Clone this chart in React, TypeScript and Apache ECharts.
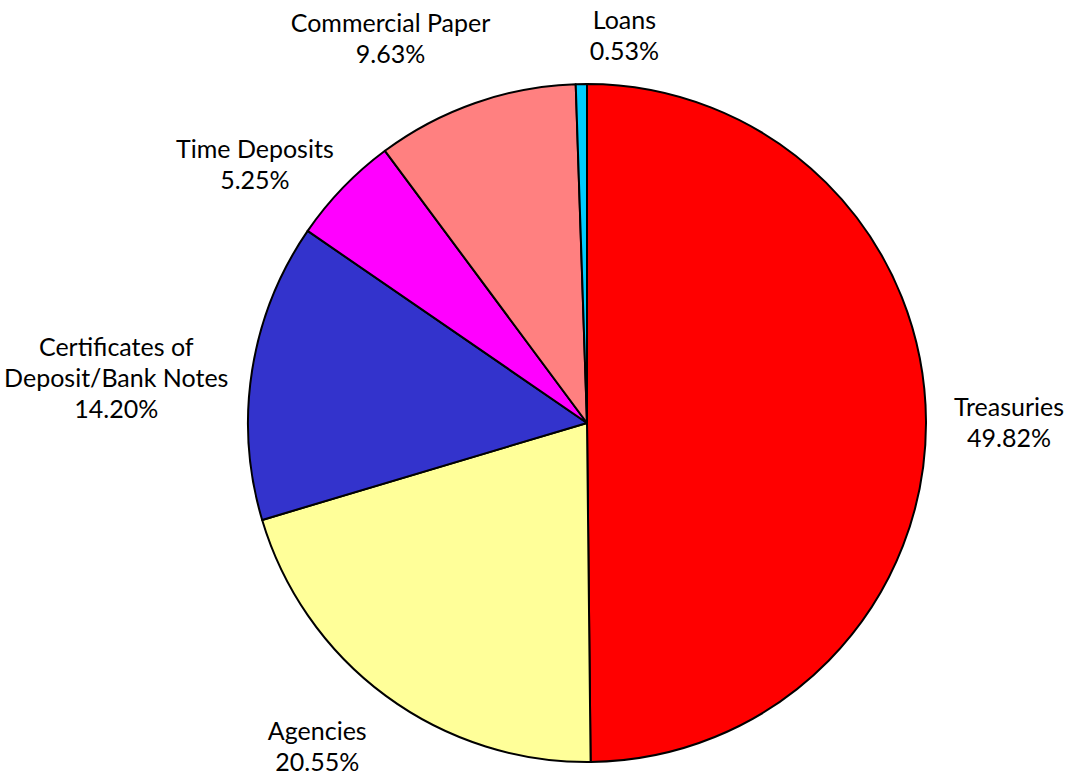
import React, { useEffect, useRef } from "react";
import * as echarts from "echarts";

const categories = [
  "Treasuries",
  "Agencies",
  "Certificates of\nDeposit/Bank Notes",
  "Time Deposits",
  "Commercial Paper",
  "Loans",
];
const shares = [49.82, 20.55, 14.2, 5.25, 9.63, 0.53];
const colors = ["#FF0000", "#FFFF99", "#3333CC", "#FF00FF", "#FF8080", "#00CCFF"];

// small per-label nudges (px) to mimic the original label placement
const labelNudge: [number, number][] = [
  [4, 1],
  [-18, -1],
  [0, 18],
  [8, 22],
  [-42, -12],
  [44, 5],
];

const W = 1070;
const H = 775;
const CX = 587;
const CY = 423;
const R = 339;
const GAP = 24;

export default function App() {
  const ref = useRef<HTMLDivElement>(null);
  useEffect(() => {
    if (!ref.current) return;
    const chart = echarts.init(ref.current, null, { renderer: "svg" });
    const total = shares.reduce((a, b) => a + b, 0);
    const option = {
      animation: false,
      backgroundColor: "#ffffff",
      series: [
        {
          type: "pie",
          center: [CX, CY],
          radius: R,
          startAngle: 90,
          clockwise: true,
          avoidLabelOverlap: false,
          itemStyle: { borderColor: "#000000", borderWidth: 2 },
          label: {
            show: true,
            position: "outside",
            fontFamily: "Lato",
            fontSize: 25,
            lineHeight: 31,
            color: "#000000",
            formatter: (p: any) => `${p.name}\n${shares[p.dataIndex].toFixed(2)}%`,
          },
          labelLine: { show: false },
          labelLayout: (params: any) => {
            const i = params.dataIndex;
            let before = 0;
            for (let k = 0; k < i; k++) before += shares[k];
            const frac = (before + shares[i] / 2) / total;
            const a = frac * Math.PI * 2;
            const dx = Math.sin(a);
            const dy = -Math.cos(a);
            const m = Math.max(Math.abs(dx), Math.abs(dy));
            const w = params.labelRect.width;
            const h = params.labelRect.height;
            const x = CX + (R + GAP) * dx + (dx / m) * (w / 2) + labelNudge[i][0];
            const y = CY + (R + GAP) * dy + (dy / m) * (h / 2) + labelNudge[i][1];
            return { x, y, align: "center", verticalAlign: "middle" };
          },
          data: categories.map((name, i) => ({
            name,
            value: shares[i],
            itemStyle: { color: colors[i] },
          })),
        },
      ],
    };
    chart.setOption(option as any);
    return () => chart.dispose();
  }, []);
  return (
    <div
      ref={ref}
      style={{ position: "fixed", left: 0, top: 0, width: W, height: H }}
    />
  );
}
